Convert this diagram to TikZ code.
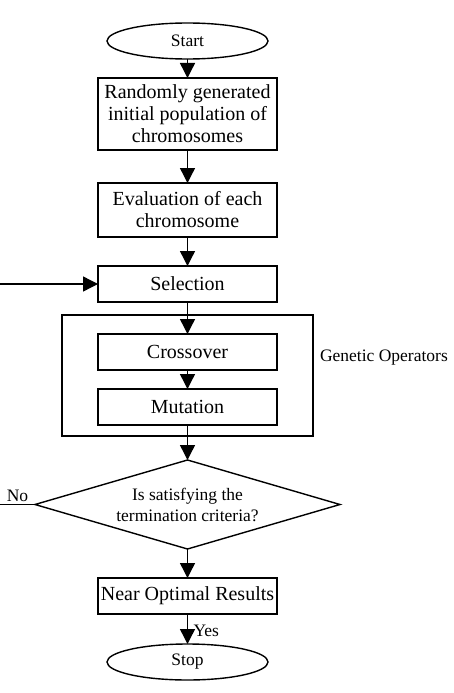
\documentclass[tikz,border=0pt]{standalone}
\usepackage{fontspec}
\setmainfont{Liberation Serif}
\usetikzlibrary{positioning,arrows.meta,shapes.geometric,fit}

\begin{document}
\begin{tikzpicture}[x=1pt,y=1pt,line width=1.4pt,>={Triangle[length=15pt,width=15pt]},
  every node/.style={outer sep=0pt},
  proc/.style={draw,minimum width=179pt,minimum height=36pt,inner sep=2pt,align=center,
               font=\fontsize{20}{22}\selectfont},
  term/.style={draw,ellipse,minimum width=161pt,minimum height=36pt,inner sep=0pt,
               font=\fontsize{17.5}{20}\selectfont},
  dec/.style={draw,diamond,aspect=3.43,minimum width=305pt,minimum height=89pt,inner sep=0pt,
              align=center,font=\fontsize{17.5}{21}\selectfont},
  io/.style={font=\fontsize{17.5}{20}\selectfont,inner sep=1pt}]

  \useasboundingbox (0,0) rectangle (453,-693);

  % ---------- main column ----------
  \node[term] (start) at (187.5,-41) {Start};
  \node[proc,below=19pt of start,minimum height=72pt] (init) {Randomly generated\\initial population of\\chromosomes};
  \node[proc,below=33pt of init,minimum height=54pt] (eval) {Evaluation of each\\chromosome};
  \node[proc,below=29pt of eval] (sel) {Selection};
  \node[proc,below=32pt of sel] (cross) {Crossover};
  \node[proc,below=19pt of cross] (mut) {Mutation};
  \node[dec,below=35pt of mut] (crit) {Is satisfying the\\termination criteria?};
  \node[proc,below=29pt of crit] (near) {Near Optimal Results};
  \node[term,below=30pt of near] (stop) {Stop};

  % ---------- genetic operators group ----------
  \coordinate (gtl) at ([xshift=-36pt,yshift=19pt]cross.north west);
  \coordinate (gbr) at ([xshift=36pt,yshift=-11pt]mut.south east);
  \node[draw,fit=(gtl)(gbr),inner sep=0pt] (gop) {};
  \node[io,right=6pt of gop.east,anchor=west,yshift=18pt] (goplbl) {Genetic Operators};

  % ---------- connectors ----------
  \draw[->] (start)--(init); \draw[->] (init)--(eval); \draw[->] (eval)--(sel);
  \draw[->] (sel)--(cross); \draw[->] (cross)--(mut); \draw[->] (mut)--(crit);
  \draw[->] (crit)--(near);
  \draw[->] (near)--node[io,right=5pt,pos=0.55]{Yes}(stop);
  % --- loop back ends (cut at the left margin) ---
  \coordinate (noend) at (crit.west -| 0,0);
  \coordinate (fbin) at (sel.west -| 0,0);
  \draw (crit.west)--node[io,above=2pt]{No}(noend);
  \draw[->] (fbin)--(sel.west);
\end{tikzpicture}
\end{document}
